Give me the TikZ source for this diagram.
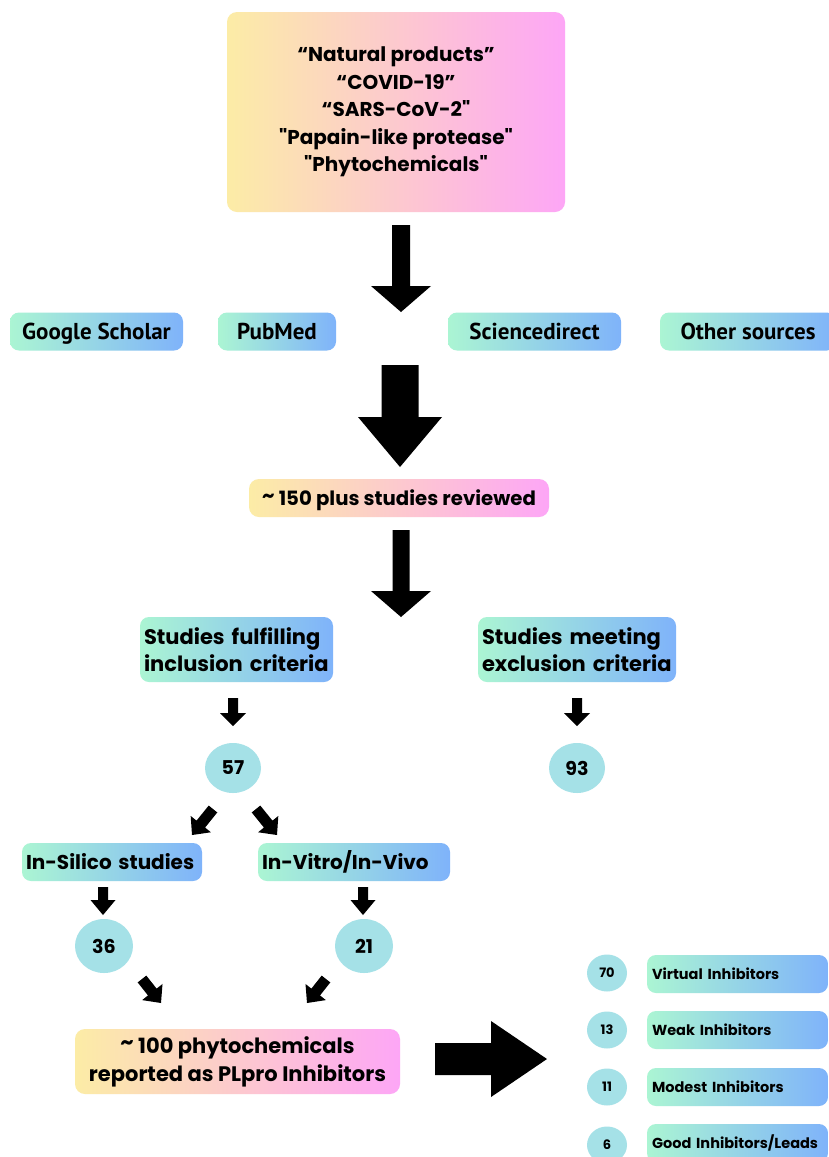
\documentclass[tikz,border=0pt]{standalone}
\usepackage{fontspec}
\setmainfont{Poppins}
\newfontfamily\condfont{PT Sans}
\usetikzlibrary{calc,shapes.geometric}
\definecolor{ylw}{HTML}{FCECA6}
\definecolor{pnk}{HTML}{FDA6F6}
\definecolor{mint}{HTML}{ABF5D3}
\definecolor{blu}{HTML}{7FB3FA}
\definecolor{tealc}{HTML}{A5E1E7}
\newcommand\blockarrow[5]{%
  \coordinate (ba) at (#1);
  \coordinate (bb) at (#2);
  \coordinate (bh) at ($(bb)!#5!(ba)$);
  \fill ($(ba)!#3!90:(bb)$) -- ($(bh)!#3!90:(bb)$) -- ($(bh)!#4!90:(bb)$) -- (bb)
    -- ($(bh)!#4!-90:(bb)$) -- ($(bh)!#3!-90:(bb)$) -- ($(ba)!#3!-90:(bb)$) -- cycle;}
\newcommand\sq{\textquotedbl}
\tikzset{
  warm/.style={rounded corners=10pt, left color=ylw, right color=pnk, draw=none,
    font=\bfseries, inner sep=0pt, align=center},
  cool/.style={rounded corners=9pt, left color=mint, right color=blu, draw=none,
    font=\bfseries, inner sep=0pt},
  src/.style={cool, font=\condfont\bfseries\fontsize{23}{26}\selectfont, align=center,
    minimum height=38pt, text height=18pt, text depth=2pt},
  num/.style={ellipse, fill=tealc, inner sep=0pt, font=\bfseries\fontsize{19}{22}\selectfont},
  bignum/.style={num, minimum width=56pt, minimum height=51pt},
  smallnum/.style={num, minimum width=40pt, minimum height=37pt, font=\bfseries\fontsize{13}{16}\selectfont},
  item/.style={cool, minimum width=181pt, minimum height=38pt, text width=171pt, align=left,
    font=\bfseries\fontsize{14.5}{17}\selectfont, text height=11pt, text depth=1pt},
}
\begin{document}
\begin{tikzpicture}[x=1pt,y=-1pt]
\useasboundingbox (0,0) rectangle (828,1157);
\fill[white] (0,0) rectangle (828,1157);

% top keyword box
\node[warm, minimum width=338pt, minimum height=200pt,
  font=\bfseries\fontsize{20}{27.5}\selectfont] (top) at (396,112)
  {“Natural products”\\“COVID-19”\\“SARS-CoV-2\sq\\\sq Papain-like protease\sq\\\sq Phytochemicals\sq};

% sources
\node[src, minimum width=173pt] (gs) at (96.5,331.5) {Google Scholar};
\node[src, minimum width=118pt] (pm) at (277,331.5) {PubMed};
\node[src, minimum width=173pt] (sd) at (534.5,331.5) {Sciencedirect};
\node[src, minimum width=176pt] (os) at (748,331.5) {Other sources};

% reviewed
\node[warm, minimum width=300pt, minimum height=38pt, text height=15pt, text depth=1pt,
  font=\bfseries\fontsize{19.7}{23}\selectfont] (rev) at (399,498) {\raisebox{0.15em}{\textasciitilde} 150 plus studies reviewed};

% criteria
\node[cool, minimum width=193pt, minimum height=65pt, text width=185pt, align=left,
  font=\bfseries\fontsize{21}{27}\selectfont] (inc) at (236.5,649.5)
  {Studies fulfilling\\inclusion criteria};
\node[cool, minimum width=198pt, minimum height=65pt, text width=190pt, align=left,
  font=\bfseries\fontsize{21}{27}\selectfont] (exc) at (577,649.5)
  {Studies meeting\\exclusion criteria};

\node[bignum, minimum width=56pt, minimum height=50pt] (n57) at (233,768) {57};
\node[bignum, minimum width=56pt, minimum height=50pt] (n93) at (577,768) {93};

% study types
\node[cool, minimum width=180pt, minimum height=38pt, text width=172pt, align=left,
  text height=15pt, text depth=1pt,
  font=\bfseries\fontsize{20}{23}\selectfont] (sil) at (112,862) {In-Silico studies};
\node[cool, minimum width=192pt, minimum height=38pt, text width=184pt, align=left,
  text height=15pt, text depth=1pt,
  font=\bfseries\fontsize{20}{23}\selectfont] (viv) at (354,862) {In-Vitro/In-Vivo};

\node[bignum, minimum width=58pt, minimum height=54pt] (n36) at (104,946) {36};
\node[bignum, minimum width=58pt, minimum height=54pt] (n21) at (364,946) {21};

% result
\node[warm, minimum width=325pt, minimum height=65pt,
  font=\bfseries\fontsize{21}{28}\selectfont] (phy) at (237.5,1061.5)
  {\raisebox{0.15em}{\textasciitilde} 100 phytochemicals\\reported as PLpro Inhibitors};

% right list
\node[smallnum] (n70) at (607,973) {70};
\node[smallnum] (n13) at (607,1030) {13};
\node[smallnum] (n11) at (607,1087) {11};
\node[smallnum] (n6) at (607,1145) {6};
\node[item] (vi) at (737.5,974) {Virtual Inhibitors};
\node[item] (wi) at (737.5,1030) {Weak Inhibitors};
\node[item] (mi) at (737.5,1087) {Modest Inhibitors};
\node[item] (gi) at (737.5,1143) {Good Inhibitors/Leads};

% arrows
\coordinate (a1s) at (401,225); \coordinate (a1e) at (401,312);
\blockarrow{a1s}{a1e}{9pt}{30pt}{26pt}
\coordinate (a2s) at (400,365); \coordinate (a2e) at (400,467);
\blockarrow{a2s}{a2e}{18.5pt}{42pt}{50pt}
\coordinate (a3s) at (401,530); \coordinate (a3e) at (401,617);
\blockarrow{a3s}{a3e}{8.5pt}{30pt}{26pt}
\coordinate (b1s) at (233,698); \coordinate (b1e) at (233,726);
\blockarrow{b1s}{b1e}{5pt}{13pt}{13pt}
\coordinate (b2s) at (577,698); \coordinate (b2e) at (577,726);
\blockarrow{b2s}{b2e}{5pt}{13pt}{13pt}
\coordinate (d1s) at (213,809); \coordinate (d1e) at (192,835);
\blockarrow{d1s}{d1e}{5.5pt}{13pt}{14pt}
\coordinate (d2s) at (256,809); \coordinate (d2e) at (277,835);
\blockarrow{d2s}{d2e}{5.5pt}{13pt}{14pt}
\coordinate (c1s) at (103,887); \coordinate (c1e) at (103,915);
\blockarrow{c1s}{c1e}{5pt}{12.5pt}{15pt}
\coordinate (c2s) at (363,887); \coordinate (c2e) at (363,915);
\blockarrow{c2s}{c2e}{5pt}{12.5pt}{15pt}
\coordinate (d3s) at (142,979); \coordinate (d3e) at (161,1003);
\blockarrow{d3s}{d3e}{5.5pt}{13pt}{14pt}
\coordinate (d4s) at (326,979); \coordinate (d4e) at (307,1003);
\blockarrow{d4s}{d4e}{5.5pt}{13pt}{14pt}
\coordinate (e1s) at (435,1059); \coordinate (e1e) at (547,1059);
\blockarrow{e1s}{e1e}{16pt}{38pt}{56pt}
\end{tikzpicture}
\end{document}
